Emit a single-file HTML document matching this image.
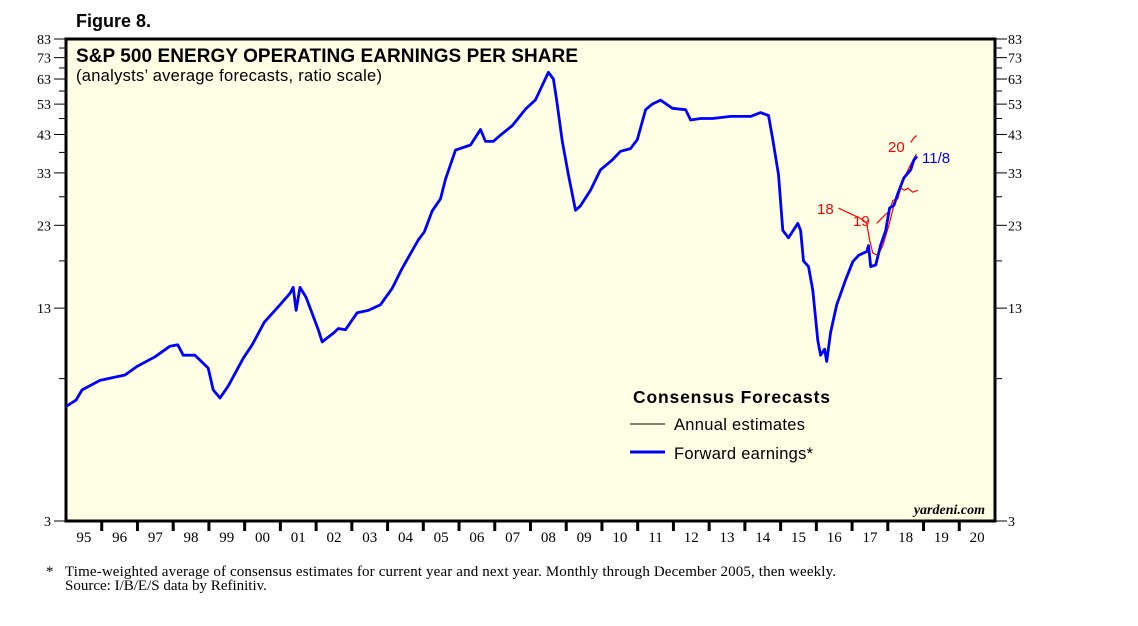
<!DOCTYPE html>
<html><head><meta charset="utf-8"><style>
body{margin:0;background:#fff;}
svg text{font-family:"Liberation Sans",sans-serif;}
.serif{font-family:"Liberation Serif",serif;}
</style></head><body>
<svg id="chart" width="1138" height="621" viewBox="0 0 1138 621">
<text x="76" y="27" font-size="18" font-weight="bold">Figure 8.</text>
<rect x="66" y="39" width="929" height="482" fill="#ffffe6" stroke="#000" stroke-width="3"/>
<text x="76" y="62" font-size="19" font-weight="bold" textLength="502">S&amp;P 500 ENERGY OPERATING EARNINGS PER SHARE</text>
<text x="76" y="81" font-size="16.5" textLength="306">(analysts’ average forecasts, ratio scale)</text>
<g id="axes"></g>
<g id="series"></g>
<text x="633" y="403" font-size="17.5" font-weight="bold" textLength="197">Consensus Forecasts</text>
<line x1="630" y1="424" x2="665" y2="424" stroke="#000" stroke-width="1"/>
<text x="674" y="430" font-size="16.5" textLength="131">Annual estimates</text>
<line x1="630" y1="452" x2="665" y2="452" stroke="#0000ff" stroke-width="3"/>
<text x="674" y="459" font-size="16.5" textLength="139">Forward earnings*</text>
<text x="985" y="514" font-size="14" font-style="italic" font-weight="bold" text-anchor="end" class="serif">yardeni.com</text>
<text x="888" y="152" font-size="15" fill="#ff0000">20</text>
<text x="817" y="214" font-size="15" fill="#ff0000">18</text>
<text x="853" y="226" font-size="15" fill="#ff0000">19</text>
<text x="922" y="163" font-size="15" fill="#0000ff">11/8</text>
<text x="46" y="576" font-size="15" class="serif">*</text>
<text x="65" y="576" font-size="15" class="serif" textLength="771">Time-weighted average of consensus estimates for current year and next year. Monthly through December 2005, then weekly.</text>
<text x="65" y="590" font-size="15" class="serif">Source: I/B/E/S data by Refinitiv.</text>
</svg>
<script>
const yTicks=[3,13,23,33,43,53,63,73,83];
const yMinor=[8,18,28,38,48,58,68,78];
const xLabels=["95","96","97","98","99","00","01","02","03","04","05","06","07","08","09","10","11","12","13","14","15","16","17","18","19","20"];
const fwdYears=[1995.00,1995.28,1995.45,1995.95,1996.65,1996.99,1997.49,1997.91,1998.13,1998.28,1998.61,1998.98,1999.12,1999.31,1999.54,1999.96,2000.21,2000.55,2000.99,2001.27,2001.36,2001.44,2001.55,2001.72,2002.06,2002.17,2002.51,2002.62,2002.82,2003.15,2003.46,2003.80,2004.13,2004.41,2004.86,2005.03,2005.25,2005.48,2005.62,2005.90,2006.32,2006.60,2006.74,2006.96,2007.16,2007.49,2007.86,2008.14,2008.50,2008.64,2008.73,2008.89,2009.06,2009.26,2009.40,2009.68,2009.96,2010.29,2010.52,2010.80,2010.99,2011.22,2011.41,2011.64,2011.97,2012.34,2012.48,2012.76,2013.10,2013.60,2014.16,2014.44,2014.66,2014.78,2014.94,2015.06,2015.22,2015.48,2015.56,2015.64,2015.78,2015.90,2016.04,2016.12,2016.23,2016.29,2016.40,2016.57,2016.82,2017.02,2017.18,2017.41,2017.46,2017.52,2017.66,2017.80,2017.94,2018.05,2018.17,2018.28,2018.45,2018.64,2018.73,2018.82];
const fwdValues=[6.6,6.9,7.4,7.9,8.2,8.7,9.3,10.0,10.1,9.4,9.4,8.6,7.4,7.0,7.6,9.2,10.1,11.8,13.3,14.4,15,12.8,15,14,11.2,10.3,11,11.3,11.2,12.6,12.8,13.3,14.9,17.1,20.8,22,25.4,27.6,31.6,38.6,40,44.5,41,41,42.8,45.7,51.2,54.6,66,63,54.6,41,32.6,25.5,26.3,29.3,33.7,36.1,38.3,39,41.5,51,53,54.5,51.5,51,47.5,48,48,48.7,48.7,50,49,41.5,32.6,22.2,21.1,23.3,22.2,18,17.3,14.7,10.4,9.4,9.8,9,11,13.3,15.8,17.9,18.7,19.2,20,17.3,17.5,20.1,22.2,25.9,26.4,28.6,31.9,33.7,36.1,37];
const est18Years=[2016.62,2016.96,2017.24,2017.41,2017.49,2017.58,2017.72,2017.86,2018.03,2018.17,2018.36,2018.50,2018.64,2018.80];
const est18Values=[25.9,24.9,24.1,23.3,20.8,19.0,18.7,20.0,23.0,26.4,30.3,32.6,35.0,37.6];
const est19Years=[2017.69,2017.89,2018.05,2018.14,2018.28,2018.36,2018.47,2018.56,2018.70,2018.84];
const est19Values=[23.3,24.5,25.4,27.3,27.6,29.7,29.3,29.7,28.9,29.3];
const est20Years=[2018.64,2018.73,2018.81];
const est20Values=[40.7,42,42.7];

const NS="http://www.w3.org/2000/svg";
const L=66,R=995,T=39,B=521;
const xS=y=>L+(y-1995)*(R-L)/26;
const yS=v=>B-(B-T)*Math.log(v/3)/Math.log(83/3);
function mk(tag,attrs,parent){const e=document.createElementNS(NS,tag);for(const k in attrs)e.setAttribute(k,attrs[k]);parent.appendChild(e);return e;}
const ax=document.getElementById('axes');
yTicks.forEach(v=>{const y=yS(v);
 let t=mk('line',{x1:L-12,x2:L,y1:y,y2:y,stroke:'#000'},ax);
 
 
 t=mk('line',{x1:R,x2:R+12,y1:y,y2:y,stroke:'#000'},ax);
 
 
 let s=mk('text',{x:L-15,y:y+5,'font-size':14,'text-anchor':'end',class:'serif'},ax);s.textContent=v;
 
 
 s=mk('text',{x:R+13,y:y+5,'font-size':14,class:'serif'},ax);s.textContent=v;
 
 
});
yMinor.forEach(v=>{const y=yS(v);
 let t=mk('line',{x1:L-7,x2:L,y1:y,y2:y,stroke:'#000'},ax);
 
 
 t=mk('line',{x1:R,x2:R+7,y1:y,y2:y,stroke:'#000'},ax);
 
 
});
xLabels.forEach((lb,i)=>{
 const x0=xS(1995+i);
 if(i>0){const t=mk('line',{x1:x0,x2:x0,y1:B,y2:B+10,stroke:'#000','stroke-width':3},ax);
 
 }
 const s=mk('text',{x:xS(1995.5+i),y:B+21,'font-size':15,'text-anchor':'middle',class:'serif'},ax);s.textContent=lb;
 
 
});
const sg=document.getElementById('series');
function line(xs,vs,color,w,name){
 const d=xs.map((x,i)=>(i?'L':'M')+xS(x).toFixed(1)+','+yS(vs[i]).toFixed(1)).join('');
 const p=mk('path',{d:d,fill:'none',stroke:color,'stroke-width':w,'stroke-linejoin':'round'},sg);
 
 
}
line(est18Years,est18Values,'#ff0000',1.2,'annual-estimate-2018');
line(est19Years,est19Values,'#ff0000',1.2,'annual-estimate-2019');
line(est20Years,est20Values,'#ff0000',1.2,'annual-estimate-2020');
line(fwdYears,fwdValues,'#0000ff',2.8,'forward-earnings-line');
</script>
</body></html>
